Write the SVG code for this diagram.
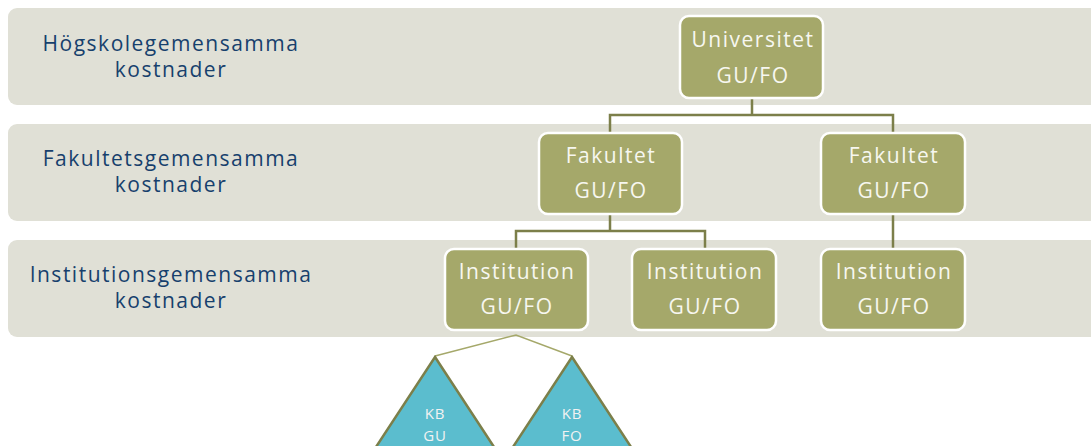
<svg xmlns="http://www.w3.org/2000/svg" width="1091" height="446" viewBox="0 0 1091 446">
<style>
.band{fill:#E0E0D6}
.lbl{font-family:"Open Sans",sans-serif;font-size:21px;letter-spacing:1.5px;fill:#17406D;text-anchor:middle}
.node{fill:#A5A86A;stroke:#FFFFFF;stroke-width:2.5}
.nt{font-family:"Open Sans",sans-serif;font-size:21px;letter-spacing:1.5px;fill:#F7F7F0;text-anchor:middle}
.con{fill:none;stroke:#7C7F4A;stroke-width:2.5}
.thin{fill:none;stroke:#A5A86A;stroke-width:1.5}
.tri{fill:#5BBDCE;stroke:#7C7F4A;stroke-width:2.5;stroke-linejoin:miter}
.tt{font-family:"Open Sans",sans-serif;font-size:15px;letter-spacing:0.8px;fill:#F2F2F2;text-anchor:middle}
</style>
<rect width="1091" height="446" fill="#FFFFFF"/>
<g id="bands">
<rect class="band" x="8" y="8" width="1100" height="97" rx="9"/>
<rect class="band" x="8" y="124" width="1100" height="97" rx="9"/>
<rect class="band" x="8" y="240" width="1100" height="97" rx="9"/>
<text class="lbl" x="171" y="51">Högskolegemensamma</text>
<text class="lbl" x="171" y="77">kostnader</text>
<text class="lbl" x="171" y="166">Fakultetsgemensamma</text>
<text class="lbl" x="171" y="192">kostnader</text>
<text class="lbl" x="171" y="282">Institutionsgemensamma</text>
<text class="lbl" x="171" y="308">kostnader</text>
</g>
<g id="connectors">
<path class="con" d="M752 98V115H610V133M752 115H893V133"/>
<path class="con" d="M610 214V231H516V249M610 231H705V249"/>
<path class="con" d="M893 214V249"/>
<path class="thin" d="M435 356L516 335L572 356"/>
</g>
<g id="universitet">
<rect class="node" x="680" y="16" width="143" height="82" rx="9"/>
<text class="nt" x="753" y="47">Universitet</text>
<text class="nt" x="753" y="83">GU/FO</text>
</g>
<g id="fakultet1">
<rect class="node" x="539" y="133" width="143" height="81" rx="9"/>
<text class="nt" x="611" y="163">Fakultet</text>
<text class="nt" x="611" y="198">GU/FO</text>
</g>
<g id="fakultet2">
<rect class="node" x="821" y="133" width="144" height="81" rx="9"/>
<text class="nt" x="894" y="163">Fakultet</text>
<text class="nt" x="894" y="198">GU/FO</text>
</g>
<g id="institution1">
<rect class="node" x="445" y="249" width="143" height="81" rx="9"/>
<text class="nt" x="517" y="279">Institution</text>
<text class="nt" x="517" y="314">GU/FO</text>
</g>
<g id="institution2">
<rect class="node" x="632" y="249" width="144" height="81" rx="9"/>
<text class="nt" x="705" y="279">Institution</text>
<text class="nt" x="705" y="314">GU/FO</text>
</g>
<g id="institution3">
<rect class="node" x="821" y="249" width="144" height="81" rx="9"/>
<text class="nt" x="894" y="279">Institution</text>
<text class="nt" x="894" y="314">GU/FO</text>
</g>
<g id="kbgu">
<path class="tri" d="M435 357L496 450H374Z"/>
<text class="tt" x="435" y="419">KB</text>
<text class="tt" x="435" y="441">GU</text>
</g>
<g id="kbfo">
<path class="tri" d="M572 357L633 450H511Z"/>
<text class="tt" x="572" y="419">KB</text>
<text class="tt" x="572" y="441">FO</text>
</g>
</svg>
